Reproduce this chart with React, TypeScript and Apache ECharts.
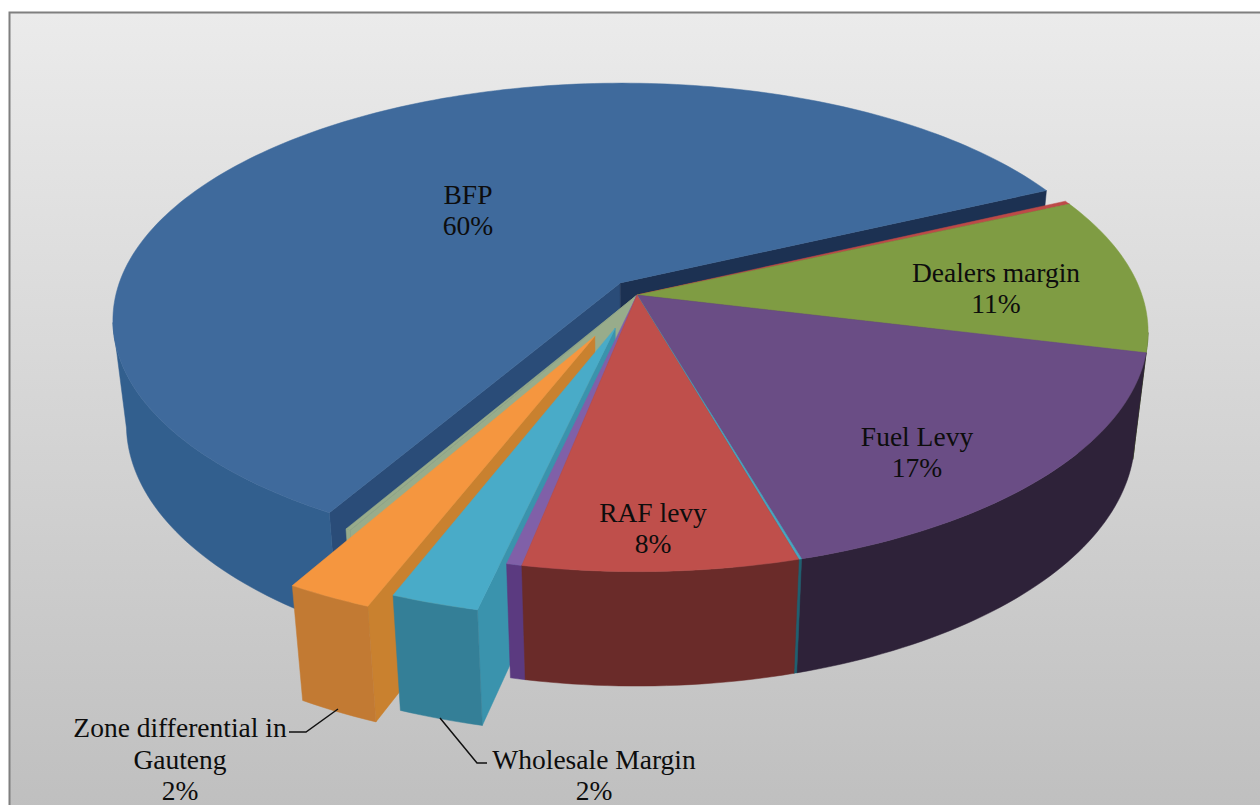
import React, { useEffect, useRef } from "react";
import * as echarts from "echarts";

// Slices clockwise from the start angle; blank names carry no label.
const sliceNames = ["", "Dealers margin", "Fuel Levy", "", "RAF levy", "", "Wholesale Margin", "Zone differential in\nGauteng", "", "BFP"];
const sliceValues = [0.25, 10.6, 16.7, 0.08, 7.5, 0.42, 2.36, 2.3, 0.14, 59.65];
const explodes = [0, 0, 0, 0, 0, 0, 0.145, 0.19, 0, 0.062];
const explodeTurns = [0, 0, 0, 0, 0, 0, 0, 0, 0, -10];
const topColors = ["#bd4a48", "#7f9c43", "#6a4d85", "#46a6c0", "#bf4f4b", "#8060a8", "#49abc8", "#f5963f", "#98ac8b", "#3f6a9c"];
const wallColors = ["#6e2b2a", "#4a5a28", "#2e2239", "#1f6070", "#6a2b29", "#5b3a80", "#347f97", "#c27a33", "#98ac8b", "#325f8e"];
const startEdgeColors = ["#6e2b2a", "#4a5a28", "#2e2239", "#1f6070", "#6a2b29", "#5b3a80", "#3a93ad", "#c9812f", "#98ac8b", "#2a4c78"];
const endEdgeColors = ["#6e2b2a", "#4a5a28", "#2e2239", "#1f6070", "#6a2b29", "#5b3a80", "#3a93ad", "#c9812f", "#98ac8b", "#1c3152"];
const paintOrder = [9, 8, 7, 6, 0, 1, 2, 3, 5, 4];

const labelSlices = [9, 1, 2, 4, 7, 6];
// x and the y of the first line of each label
const labelAnchors = [[468, 194], [996, 272], [917, 436], [653, 512], [180, 727.5], [594, 759]];
const LINE_STEP = 31.5;
const leaderLines = [
  [[289, 732], [306, 732], [338, 709]],
  [[440, 718], [477, 763], [487, 763]],
];

// Projection of the tilted disc, with perspective.
const CX = 637, CY = 295, A = 505, B = 234, K = 0.154, M = 0.026, H = 107;
const START_ANGLE = 25.3;
const total = sliceValues.reduce((s, v) => s + v, 0);

const project = (u: number, v: number, h: number): number[] => {
  const d = 1 + K * v + M * h;
  return [CX + (A * u) / d, CY - (B * v - H * h) / d];
};

const rad = (deg: number) => (deg * Math.PI) / 180;

const angleOf = (index: number) => {
  let a = START_ANGLE;
  for (let i = 0; i < index; i++) a -= (sliceValues[i] / total) * 360;
  return a;
};

function renderSlice(_params: any, api: any) {
  const i = api.value(0);
  const a1 = angleOf(i);
  const a2 = a1 - (api.value(1) / total) * 360;
  const mid = rad((a1 + a2) / 2 + explodeTurns[i]);
  const ox = explodes[i] * Math.cos(mid);
  const oy = explodes[i] * Math.sin(mid);
  const camV = -1 / K;

  const rim = (deg: number, h: number) => project(ox + Math.cos(rad(deg)), oy + Math.sin(rad(deg)), h);
  const steps = Math.max(2, Math.ceil(Math.abs(a1 - a2) / 1.2));
  const angles: number[] = [];
  for (let s = 0; s <= steps; s++) angles.push(a1 + ((a2 - a1) * s) / steps);

  const children: any[] = [];
  const poly = (points: number[][], fill: string) =>
    children.push({ type: "polygon", shape: { points }, style: { fill, stroke: fill, lineWidth: 0.5 } });

  const edge = (deg: number, nx: number, ny: number, fill: string) => {
    if (nx * (0 - ox) + ny * (camV - oy) <= 0) return;
    poly([project(ox, oy, 0), rim(deg, 0), rim(deg, 1), project(ox, oy, 1)], fill);
  };
  edge(a1, -Math.sin(rad(a1)), Math.cos(rad(a1)), startEdgeColors[i]);
  edge(a2, Math.sin(rad(a2)), -Math.cos(rad(a2)), endEdgeColors[i]);

  const visible = angles.filter((a) => {
    const c = Math.cos(rad(a)), s = Math.sin(rad(a));
    return c * (0 - ox - c) + s * (camV - oy - s) > 0;
  });
  if (visible.length >= 2) {
    poly([...visible.map((a) => rim(a, 0)), ...[...visible].reverse().map((a) => rim(a, 1))], wallColors[i]);
  }
  poly([project(ox, oy, 0), ...angles.map((a) => rim(a, 0))], topColors[i]);
  return { type: "group", children };
}

function renderLabel(_params: any, api: any) {
  const n = api.value(0);
  const i = labelSlices[n];
  const lines = [...sliceNames[i].split("\n"), `${Math.round(sliceValues[i])}%`];
  const children: any[] = lines.map((line, l) => ({
    type: "text",
    style: {
      x: labelAnchors[n][0],
      y: labelAnchors[n][1] + l * LINE_STEP,
      text: line,
      fill: "#0d0d0d",
      font: '27.5px "Liberation Serif"',
      align: "center",
      verticalAlign: "middle",
    },
  }));
  if (n >= 4) {
    children.push({
      type: "polyline",
      shape: { points: leaderLines[n - 4] },
      style: { stroke: "#111111", lineWidth: 1.5, fill: "none" },
    });
  }
  return { type: "group", children };
}

export default function App() {
  const ref = useRef<HTMLDivElement>(null);
  useEffect(() => {
    document.body.style.margin = "0";
    const chart = echarts.init(ref.current!, undefined, { renderer: "svg" });
    chart.setOption({
      animation: false,
      backgroundColor: "#ffffff",
      graphic: {
        elements: [
          {
            type: "rect",
            shape: { x: 9.5, y: 12.5, width: 1260, height: 800 },
            style: {
              fill: new echarts.graphic.LinearGradient(0, 0, 0, 1, [
                { offset: 0, color: "#ebebeb" },
                { offset: 1, color: "#bfbfbf" },
              ]),
              stroke: "#7f7f7f",
              lineWidth: 2,
            },
          },
        ],
      },
      series: [
        {
          type: "custom",
          coordinateSystem: "none",
          silent: true,
          renderItem: renderSlice,
          data: paintOrder.map((i) => [i, sliceValues[i]]),
          z: 2,
        },
        {
          type: "custom",
          coordinateSystem: "none",
          silent: true,
          renderItem: renderLabel,
          data: labelSlices.map((_, n) => [n]),
          z: 3,
        },
      ],
    });
    return () => chart.dispose();
  }, []);
  return <div ref={ref} style={{ width: 1260, height: 805 }} />;
}
